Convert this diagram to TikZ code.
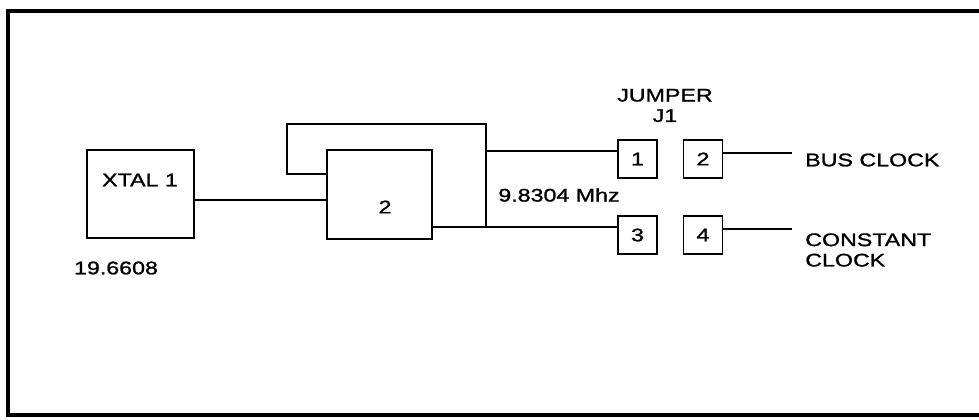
\documentclass[tikz,border=0pt]{standalone}
\usepackage{fontspec}
\newfontfamily\schfont[FakeStretch=1.27, FakeBold=1.2]{Liberation Sans}

\begin{document}
\begin{tikzpicture}[
  x=0.025cm, y=-0.025cm,
  wire/.style={line width=1.35pt},
  frame/.style={line width=2.6pt},
  block/.style={rectangle, draw, line width=1.4pt, inner sep=0pt},
  pinbox/.style={block, minimum width=0.975cm, minimum height=0.95cm, font=\schfont\fontsize{13}{14.5}\selectfont},
  txt/.style={font=\schfont\fontsize{13}{14.5}\selectfont, inner sep=0pt}
]
\useasboundingbox (0,0) rectangle (979,420);
\draw[frame] (979,11) -- (8,11) -- (8,415) -- (979,415);

\node[block, minimum width=2.675cm, minimum height=2.2cm] (xtal) at (140.5,194) {};
\node[txt] (xtallbl) at (140,180) {XTAL 1};
\node[txt] (xfreq) at (116,268) {19.6608};
\node[block, minimum width=2.625cm, minimum height=2.225cm] (div) at (379.5,194.5) {};
\node[txt] (divlbl) at (385,207) {2};
\node[txt] (dfreq) at (559,195) {9.8304 Mhz};

\node[pinbox] (j1) at (637.5,159) {1};
\node[pinbox] (j2) at (703,159) {2};
\node[pinbox] (j3) at (637.5,235) {3};
\node[pinbox] (j4) at (703,235) {4};
\node[txt, align=center] (jlbl) at (665,105.5) {JUMPER\\J1};
\node[txt, anchor=west] (buslbl) at (805,160) {BUS CLOCK};
\node[txt, anchor=west, align=left] (constlbl) at (805,250) {CONSTANT\\CLOCK};

\coordinate (divin) at (327,200);
\coordinate (fbin) at (327,174);
\coordinate (fbl) at (287,124);
\coordinate (tap) at (486,151);
\coordinate (divout) at (432,227);
\coordinate (busend) at (792,153);
\coordinate (constend) at (792,229);

\draw[wire] (xtal.east |- divin) -- (divin);
\draw[wire] (fbin) -| (fbl) -| (tap |- divout);
\draw[wire] (tap) -- (j1.west |- tap);
\draw[wire] (divout) -- (j3.west |- divout);
\draw[wire] (j2.east |- busend) -- (busend);
\draw[wire] (j4.east |- constend) -- (constend);
\end{tikzpicture}
\end{document}
